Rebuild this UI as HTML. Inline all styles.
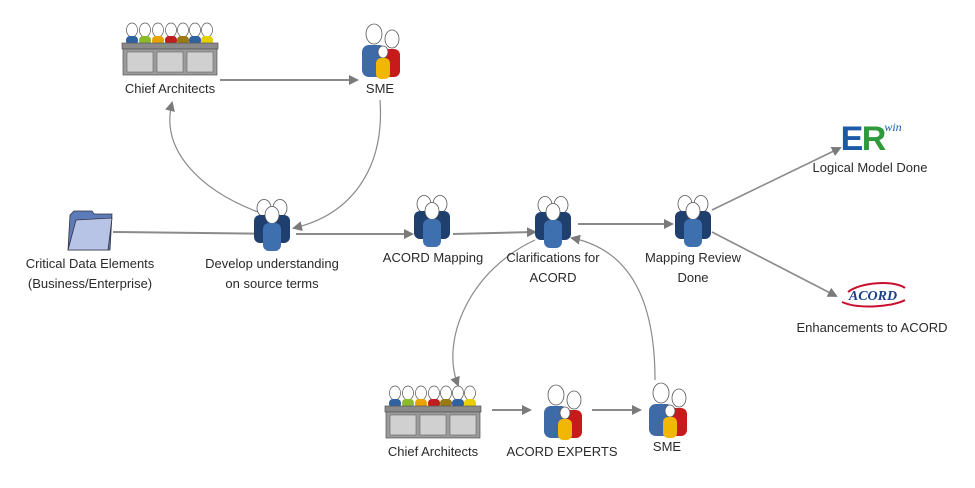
<!DOCTYPE html>
<html><head><meta charset="utf-8"><style>
html,body{margin:0;padding:0;background:#fff;}
svg{display:block}
text{font-family:"Liberation Sans",sans-serif;font-size:13px;fill:#2a2a2a;text-anchor:middle;}
</style></head><body>
<svg width="975" height="488" viewBox="0 0 975 488" xmlns="http://www.w3.org/2000/svg">
<defs>
<marker id="ah" markerWidth="10" markerHeight="10" refX="8" refY="5" orient="auto" markerUnits="userSpaceOnUse">
<path d="M0,0 L10,5 L0,10 z" fill="#7a7a7a"/></marker>
<g id="team">
 <ellipse cx="-8" cy="9" rx="7" ry="8.5" fill="#fff" stroke="#555" stroke-width="0.8"/>
 <ellipse cx="8" cy="9" rx="7" ry="8.5" fill="#fff" stroke="#555" stroke-width="0.8"/>
 <rect x="-18" y="16" width="17" height="28" rx="6" fill="#1f3f6e"/>
 <rect x="1" y="16" width="17" height="28" rx="6" fill="#1f3f6e"/>
 <ellipse cx="0" cy="16" rx="7" ry="8.5" fill="#fff" stroke="#555" stroke-width="0.8"/>
 <rect x="-9" y="24" width="18" height="28" rx="6" fill="#3e6fae"/>
</g>
<g id="sme">
 <ellipse cx="14" cy="10" rx="8" ry="10" fill="#fff" stroke="#555" stroke-width="0.8"/>
 <rect x="2" y="21" width="24" height="32" rx="7" fill="#3e6ba8"/>
 <ellipse cx="32" cy="15" rx="7" ry="9" fill="#fff" stroke="#555" stroke-width="0.8"/>
 <rect x="23" y="25" width="17" height="28" rx="6" fill="#c71a1a"/>
 <ellipse cx="23" cy="28" rx="5" ry="6" fill="#fff" stroke="#555" stroke-width="0.8"/>
 <rect x="16" y="34" width="14" height="21" rx="5" fill="#f2b705"/>
</g>
<g id="panel">
 <g stroke="#555" stroke-width="0.7">
 <ellipse cx="10" cy="7" rx="5.5" ry="7" fill="#fff"/><ellipse cx="23" cy="7" rx="5.5" ry="7" fill="#fff"/>
 <ellipse cx="36" cy="7" rx="5.5" ry="7" fill="#fff"/><ellipse cx="49" cy="7" rx="5.5" ry="7" fill="#fff"/>
 <ellipse cx="61" cy="7" rx="5.5" ry="7" fill="#fff"/><ellipse cx="73" cy="7" rx="5.5" ry="7" fill="#fff"/>
 <ellipse cx="85" cy="7" rx="5.5" ry="7" fill="#fff"/></g>
 <rect x="4" y="13" width="12" height="9" rx="4" fill="#2f62a0"/>
 <rect x="17" y="13" width="12" height="9" rx="4" fill="#8bbb2a"/>
 <rect x="30" y="13" width="12" height="9" rx="4" fill="#e8a300"/>
 <rect x="43" y="13" width="12" height="9" rx="4" fill="#c01e1e"/>
 <rect x="55" y="13" width="12" height="9" rx="4" fill="#9a7a12"/>
 <rect x="67" y="13" width="12" height="9" rx="4" fill="#2f62a0"/>
 <rect x="79" y="13" width="12" height="9" rx="4" fill="#e8d000"/>
 <rect x="0" y="20" width="96" height="6" fill="#8a8a8a" stroke="#555" stroke-width="0.7"/>
 <rect x="1" y="26" width="94" height="26" fill="#9b9b9b" stroke="#555" stroke-width="0.7"/>
 <rect x="5" y="29" width="26" height="20" fill="#d0d0d0" stroke="#666" stroke-width="0.6"/>
 <rect x="35" y="29" width="26" height="20" fill="#d0d0d0" stroke="#666" stroke-width="0.6"/>
 <rect x="65" y="29" width="26" height="20" fill="#d0d0d0" stroke="#666" stroke-width="0.6"/>
</g>
</defs>

<g stroke="#8a8a8a" stroke-width="2" fill="none" marker-end="url(#ah)">
 <path d="M220,80 L357,80"/>
 <path d="M380,100 C385,170 350,215 294,228" stroke-width="1.2"/>
 <path d="M258,212 C200,190 160,150 172,103" stroke-width="1.2"/>
 <path d="M113,232 L282,234"/>
 <path d="M296,234 L412,234"/>
 <path d="M453,234 L535,232"/>
 <path d="M578,224 L672,224"/>
 <path d="M712,210 L840,148" stroke-width="1.6"/>
 <path d="M712,232 L836,296" stroke-width="1.6"/>
 <path d="M535,240 C470,270 440,340 458,385" stroke-width="1.2"/>
 <path d="M492,410 L530,410"/>
 <path d="M592,410 L640,410"/>
 <path d="M655,380 C655,300 630,250 572,238" stroke-width="1.2"/>
</g>

<use href="#panel" x="122" y="23"/>
<use href="#sme" x="360" y="24"/>
<path d="M70,215 L74,211 L92,211 L94,214 L112,214 L110,250 L68,250 z" fill="#5c7bb8" stroke="#334" stroke-width="0.8"/>
<path d="M76,220 L112,218 L108,250 L68,250 z" fill="#b8c4e6" stroke="#334" stroke-width="0.8"/>
<use href="#team" x="272" y="199"/>
<use href="#team" x="432" y="195"/>
<use href="#team" x="553" y="196"/>
<use href="#team" x="693" y="195"/>
<use href="#panel" x="385" y="386"/>
<use href="#sme" x="542" y="385"/>
<use href="#sme" x="647" y="383"/>

<g>
 <text x="852" y="150" style="font-size:34px;font-weight:bold;fill:#1c5aa8;font-family:'Liberation Sans',sans-serif">E</text>
 <text x="874" y="150" style="font-size:34px;font-weight:bold;fill:#2e9a3c;font-family:'Liberation Sans',sans-serif">R</text>
 <text x="893" y="131" style="font-size:12px;font-style:italic;fill:#1c5aa8;font-family:'Liberation Serif',serif">win</text>
</g>
<path d="M848,292 C860,282 895,280 905,288" stroke="#c8102e" stroke-width="2" fill="none"/>
<path d="M842,302 C860,310 895,306 905,300" stroke="#c8102e" stroke-width="2" fill="none"/>
<text x="873" y="300" style="font-size:14px;font-style:italic;font-weight:bold;fill:#1c3f8a;font-family:'Liberation Serif',serif">ACORD</text>

<text x="170" y="93">Chief Architects</text>
<text x="380" y="93">SME</text>
<text x="90" y="268">Critical Data Elements</text>
<text x="90" y="288">(Business/Enterprise)</text>
<text x="272" y="268">Develop understanding</text>
<text x="272" y="288">on source terms</text>
<text x="433" y="262">ACORD Mapping</text>
<text x="553" y="262">Clarifications for</text>
<text x="553" y="282">ACORD</text>
<text x="693" y="262">Mapping Review</text>
<text x="693" y="282">Done</text>
<text x="870" y="172">Logical Model Done</text>
<text x="872" y="332">Enhancements to ACORD</text>
<text x="433" y="456">Chief Architects</text>
<text x="562" y="456">ACORD EXPERTS</text>
<text x="667" y="451">SME</text>
</svg>
</body></html>
